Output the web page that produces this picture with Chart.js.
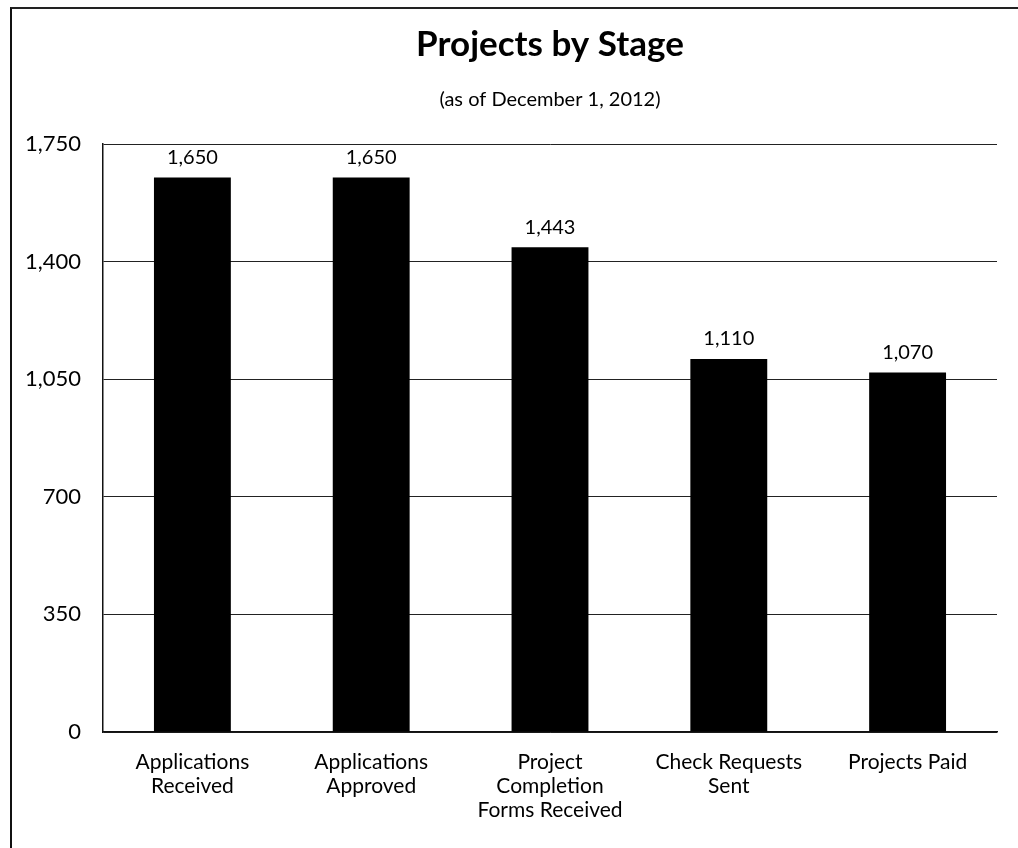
<!DOCTYPE html>
<html>
<head>
<meta charset="utf-8">
<title>Projects by Stage</title>
<script src="https://cdn.jsdelivr.net/npm/chart.js@4.4.1/dist/chart.umd.min.js"></script>
<style>
  html, body { margin: 0; padding: 0; background: #fff; }
  #frame {
    position: absolute; left: 10px; top: 7px; width: 1020px; height: 860px;
    border-left: 2px solid #111; border-top: 2px solid #222;
  }
  #myChart { position: absolute; left: 0; top: 0; }
</style>
</head>
<body>
<div id="frame"></div>
<canvas id="myChart" width="1018" height="848"></canvas>
<script>
const stages = [
  ['Applications', 'Received'],
  ['Applications', 'Approved'],
  ['Project', 'Completion', 'Forms Received'],
  ['Check Requests', 'Sent'],
  'Projects Paid'
];
const projects = [1650, 1650, 1443, 1110, 1070];
const yTicks = [0, 350, 700, 1050, 1400, 1750];

const fmt = v => v.toLocaleString('en-US');
const FONT = 'Lato, "Open Sans", sans-serif';

// values over the bars
const barLabels = {
  id: 'barLabels',
  afterDatasetsDraw(chart) {
    const ctx = chart.ctx;
    const meta = chart.getDatasetMeta(0);
    ctx.save();
    ctx.font = '20px ' + FONT;
    ctx.fillStyle = '#000';
    ctx.textAlign = 'center';
    ctx.textBaseline = 'bottom';
    meta.data.forEach((bar, i) => {
      ctx.fillText(fmt(projects[i]), bar.x, bar.y - 10);
    });
    ctx.restore();
  }
};

const ctx = document.getElementById('myChart').getContext('2d');
const myChart = new Chart(ctx, {
  type: 'bar',
  data: {
    labels: stages,
    datasets: [{
      label: 'Projects',
      data: projects,
      backgroundColor: '#000',
      borderWidth: 0,
      categoryPercentage: 1,
      barPercentage: 0.43
    }]
  },
  options: {
    responsive: false,
    animation: false,
    layout: { padding: { left: 0, right: 21, top: 0, bottom: 0 } },
    plugins: {
      legend: { display: false },
      tooltip: { enabled: false },
      title: {
        display: true,
        fullSize: false,
        text: 'Projects by Stage',
        color: '#000',
        font: { family: FONT, size: 35, weight: 'bold' },
        padding: { top: 24, bottom: 16 }
      },
      subtitle: {
        display: true,
        fullSize: false,
        text: '(as of December 1, 2012)',
        color: '#000',
        font: { family: FONT, size: 20 },
        padding: { top: 6, bottom: 32 }
      }
    },
    scales: {
      x: {
        grid: { display: false, drawTicks: false },
        border: { display: true, color: '#111', width: 1.5 },
        ticks: {
          color: '#000',
          font: { family: FONT, size: 21, lineHeight: 1.15 },
          padding: 18,
          maxRotation: 0,
          autoSkip: false
        },
        afterFit(scale) { scale.height = 116; }
      },
      y: {
        min: 0,
        max: 1750,
        afterBuildTicks(scale) { scale.ticks = yTicks.map(v => ({ value: v })); },
        grid: { color: '#222', lineWidth: 1, drawTicks: false },
        border: { display: true, color: '#111', width: 1.5 },
        ticks: {
          color: '#000',
          font: { family: FONT, size: 22 },
          padding: 22,
          callback: v => fmt(v)
        },
        afterFit(scale) { scale.width = 103; }
      }
    }
  },
  plugins: [barLabels]
});
</script>
</body>
</html>
